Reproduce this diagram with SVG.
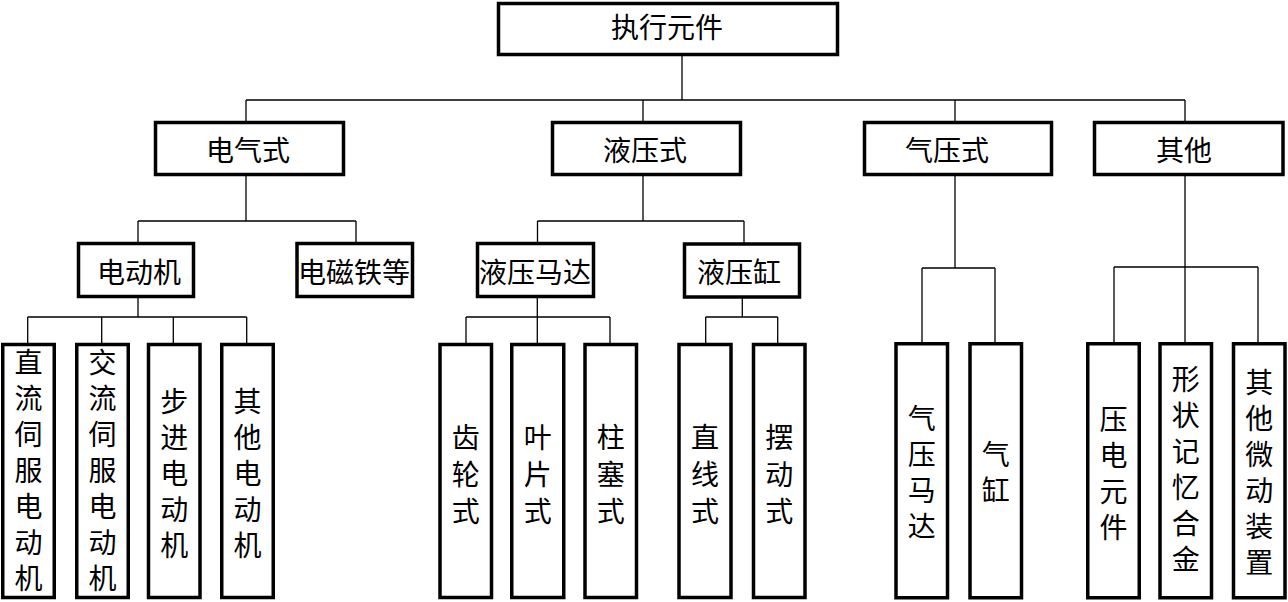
<svg xmlns="http://www.w3.org/2000/svg" width="1288" height="602" viewBox="0 0 1288 602">
<style>
.box{fill:#fff;stroke:#000;stroke-width:3.5}
.ln{fill:none;stroke:#000;stroke-width:1.3}
text{font-family:"Noto Sans CJK SC","Noto Sans CJK JP",sans-serif;font-size:28px;fill:#000;text-anchor:middle;dominant-baseline:central}
.v{writing-mode:vertical-rl;text-orientation:upright;letter-spacing:8px}
.v3{letter-spacing:8.8px}
</style>
<rect width="1288" height="602" fill="#fff"/>
<g id="connectors">
<path class="ln" d="M682,56V100M246,100H1185M246,100V121M643,100V121M955,100V121M1185,100V121"/>
<path class="ln" d="M246,176V221M138,221H356M138,221V242M356,221V242"/>
<path class="ln" d="M643,176V221M537.5,221H744M537.5,221V242M744,221V243"/>
<path class="ln" d="M138,298V317M27.7,317H246.7M27.7,317V343M101.7,317V343M173.3,317V343M246.7,317V343"/>
<path class="ln" d="M537.3,298V317M466,317H610M466,317V343M537.3,317V343M610,317V343"/>
<path class="ln" d="M742.3,298V317M705.7,317H777.7M705.7,317V343M777.7,317V343"/>
<path class="ln" d="M955,176V268M922,268H995M922,268V342M995,268V342"/>
<path class="ln" d="M1185,176V342M1114,267H1258M1114,267V342M1258,267V342"/>
</g>
<g id="root"><rect class="box" x="498.5" y="3.5" width="339" height="51"/><text x="667" y="26">执行元件</text></g>
<g id="electric"><rect class="box" x="155.5" y="122.5" width="188" height="52"/><text x="248" y="149">电气式</text></g>
<g id="hydraulic"><rect class="box" x="552.5" y="122.5" width="188" height="52"/><text x="645" y="149">液压式</text></g>
<g id="pneumatic"><rect class="box" x="864.5" y="122.5" width="187" height="52"/><text x="947" y="149">气压式</text></g>
<g id="other"><rect class="box" x="1094.5" y="122.5" width="188.5" height="52"/><text x="1184" y="149">其他</text></g>
<g id="motor"><rect class="box" x="78.5" y="243.5" width="115" height="53"/><text x="139" y="271">电动机</text></g>
<g id="electromagnet"><rect class="box" x="297" y="243.5" width="115.5" height="53"/><text x="354" y="271">电磁铁等</text></g>
<g id="hyd-motor"><rect class="box" x="477.5" y="243.5" width="116" height="53"/><text x="535" y="271">液压马达</text></g>
<g id="hyd-cylinder"><rect class="box" x="684.5" y="244" width="115" height="53"/><text x="739" y="271">液压缸</text></g>
<g id="dc-servo"><rect class="box" x="2.75" y="344.5" width="51.5" height="253"/><text class="v" x="28.5" y="474">直流伺服电动机</text></g>
<g id="ac-servo"><rect class="box" x="76.75" y="344.5" width="51.5" height="253"/><text class="v" x="102.5" y="474">交流伺服电动机</text></g>
<g id="stepper"><rect class="box" x="148.5" y="344.5" width="51.5" height="253"/><text class="v" x="174.25" y="477">步进电动机</text></g>
<g id="other-motor"><rect class="box" x="221.75" y="344.5" width="51.5" height="253"/><text class="v" x="247.5" y="477">其他电动机</text></g>
<g id="gear"><rect class="box" x="440" y="344.5" width="51.5" height="253"/><text class="v v3" x="465.75" y="479">齿轮式</text></g>
<g id="vane"><rect class="box" x="511.75" y="344.5" width="52" height="253"/><text class="v v3" x="537.75" y="479">叶片式</text></g>
<g id="piston"><rect class="box" x="585" y="344.5" width="51.5" height="253"/><text class="v v3" x="610.75" y="479">柱塞式</text></g>
<g id="linear"><rect class="box" x="679" y="344.5" width="52" height="253"/><text class="v v3" x="705" y="479">直线式</text></g>
<g id="swing"><rect class="box" x="753.5" y="344.5" width="51.5" height="253"/><text class="v v3" x="779.25" y="479">摆动式</text></g>
<g id="pneu-motor"><rect class="box" x="896" y="343.75" width="51.5" height="254"/><text class="v" x="921.75" y="476">气压马达</text></g>
<g id="pneu-cylinder"><rect class="box" x="970" y="343.75" width="51.5" height="254"/><text class="v" x="995.75" y="476">气缸</text></g>
<g id="piezo"><rect class="box" x="1087.75" y="343.75" width="51.5" height="254"/><text class="v" x="1113.5" y="477">压电元件</text></g>
<g id="sma"><rect class="box" x="1160" y="343.75" width="51.5" height="254"/><text class="v" x="1185.75" y="473.5">形状记忆合金</text></g>
<g id="other-micro"><rect class="box" x="1233.5" y="343.75" width="51.5" height="254"/><text class="v" x="1259.25" y="476.5">其他微动装置</text></g>
</svg>
